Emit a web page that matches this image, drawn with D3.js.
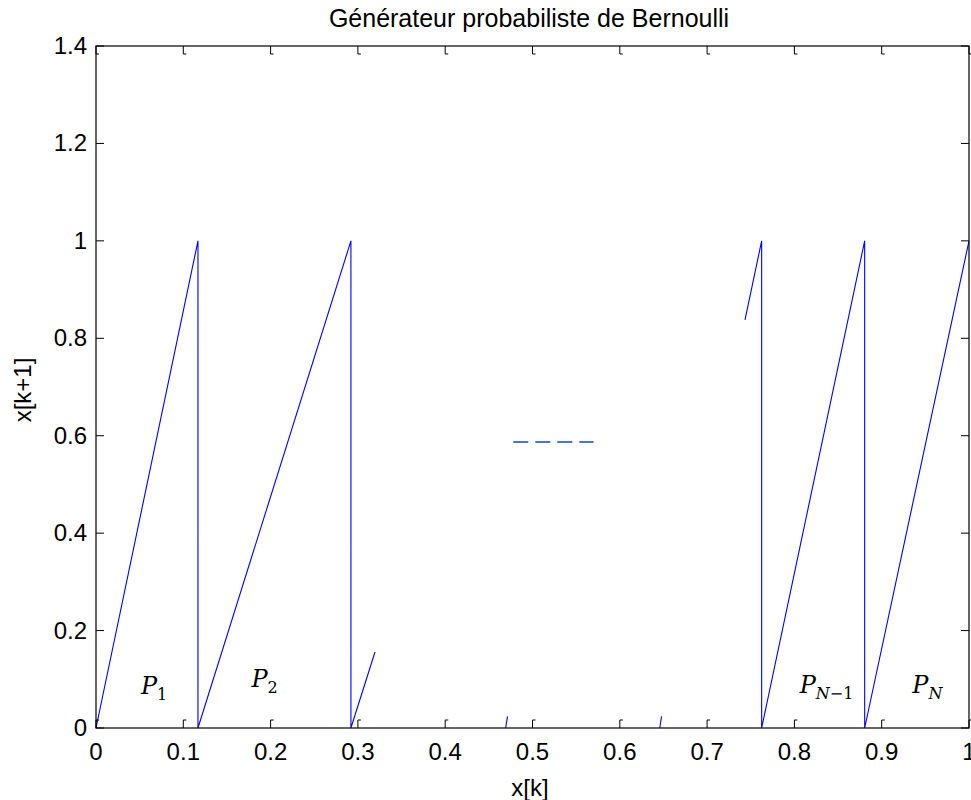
<!DOCTYPE html>
<html>
<head>
<meta charset="utf-8">
<script src="https://cdn.jsdelivr.net/npm/d3@7"></script>
<style>
  body { margin: 0; background: #fff; }
  text { font-family: "Liberation Sans", Arial, sans-serif; }
</style>
</head>
<body>
<div class="chart"></div>
<script>
// data
var xTicks = [0, 0.1, 0.2, 0.3, 0.4, 0.5, 0.6, 0.7, 0.8, 0.9, 1];
var yTicks = [0, 0.2, 0.4, 0.6, 0.8, 1, 1.2, 1.4];
var segX = [
  [0, 0.1168, 0.1168, 0.2920, 0.2920, 0.3196],
  [0.4692, 0.4714],
  [0.6458, 0.6478],
  [0.7434, 0.7625, 0.7625, 0.8805, 0.8805, 1.0]
];
var segY = [
  [0, 1, 0, 1, 0, 0.156],
  [0, 0.024],
  [0, 0.024],
  [0.838, 1, 0, 1, 0, 1]
];
var dashX = [0.478, 0.570];
var dashY = [0.587, 0.587];
var labelMain = ["P", "P", "P", "P"];
var labelSub = [["1", false], ["2", false], ["N", true, "\u22121"], ["N", true]];
var labelX = [0.0515, 0.178, 0.806, 0.935];
var labelY = [0.07, 0.084, 0.072, 0.072];

var W = 971, H = 800;
var pLeft = 96, pRight = 969, pTop = 46, pBottom = 728;

var svg = d3.select(".chart").append("svg")
  .attr("width", W).attr("height", H);

var xScale = d3.scaleLinear().domain([0, 1]).range([pLeft, pRight]);
var yScale = d3.scaleLinear().domain([0, 1.4]).range([pBottom, pTop]);

// blue curves
var line = d3.line()
  .x(function(d) { return xScale(d[0]); })
  .y(function(d) { return yScale(d[1]); });

svg.selectAll(".seg")
  .data(segX.map(function(xs, i) { return xs.map(function(x, j) { return [x, segY[i][j]]; }); }))
  .enter().append("path")
  .attr("class", "seg")
  .attr("fill", "none")
  .attr("stroke", "#0000ff")
  .attr("stroke-width", 1.1)
  .attr("d", line);

svg.append("path")
  .attr("fill", "none")
  .attr("stroke", "#4677d6")
  .attr("stroke-width", 2)
  .attr("stroke-dasharray", "15,7")
  .attr("d", line(dashX.map(function(x, i) { return [x, dashY[i]]; })));

// axes box
svg.append("rect")
  .attr("x", pLeft).attr("y", pTop)
  .attr("width", pRight - pLeft).attr("height", pBottom - pTop)
  .attr("fill", "none").attr("stroke", "#000").attr("stroke-width", 1.2);

// inward ticks
var tk = 8;
xTicks.forEach(function(t) {
  var x = xScale(t);
  svg.append("path").attr("fill", "none").attr("stroke", "#000").attr("stroke-width", 1)
    .attr("d", "M" + x + "," + pBottom + "V" + (pBottom - tk) + "h3");
  svg.append("path").attr("fill", "none").attr("stroke", "#000").attr("stroke-width", 1)
    .attr("d", "M" + x + "," + pTop + "V" + (pTop + tk) + "h3");
});
yTicks.forEach(function(t) {
  var y = yScale(t);
  svg.append("line").attr("stroke", "#000").attr("stroke-width", 1)
    .attr("x1", pLeft).attr("x2", pLeft + tk).attr("y1", y).attr("y2", y);
  svg.append("line").attr("stroke", "#000").attr("stroke-width", 1)
    .attr("x1", pRight).attr("x2", pRight - tk).attr("y1", y).attr("y2", y);
});

// tick labels
svg.selectAll(".xlab").data(xTicks).enter().append("text")
  .attr("x", function(d) { return xScale(d); })
  .attr("y", 760)
  .attr("text-anchor", "middle")
  .style("font-size", "24px")
  .text(function(d) { return d3.format("~g")(d); });

svg.selectAll(".ylab").data(yTicks).enter().append("text")
  .attr("x", 87)
  .attr("y", function(d) { return yScale(d) + 8; })
  .attr("text-anchor", "end")
  .style("font-size", "24px")
  .text(function(d) { return d3.format("~g")(d); });

// title and axis labels
svg.append("text")
  .attr("x", 529).attr("y", 27)
  .attr("text-anchor", "middle")
  .style("font-size", "25px")
  .text("Générateur probabiliste de Bernoulli");

svg.append("text")
  .attr("x", 530).attr("y", 796)
  .attr("text-anchor", "middle")
  .style("font-size", "24px")
  .text("x[k]");

svg.append("text")
  .attr("transform", "translate(31,390) rotate(-90)")
  .attr("text-anchor", "middle")
  .style("font-size", "24px")
  .text("x[k+1]");

// P labels
labelMain.forEach(function(m, i) {
  var t = svg.append("text")
    .attr("x", xScale(labelX[i]))
    .attr("y", yScale(labelY[i]))
    .style("font-family", "'DejaVu Serif', serif")
    .style("font-size", "24px");
  t.append("tspan").style("font-style", "italic").text(m);
  var s = labelSub[i];
  t.append("tspan").attr("dy", 6).style("font-size", "16px")
    .style("font-style", s[1] ? "italic" : "normal").text(s[0]);
  if (s[2]) t.append("tspan").style("font-size", "16px").text(s[2]);
});
</script>
</body>
</html>
